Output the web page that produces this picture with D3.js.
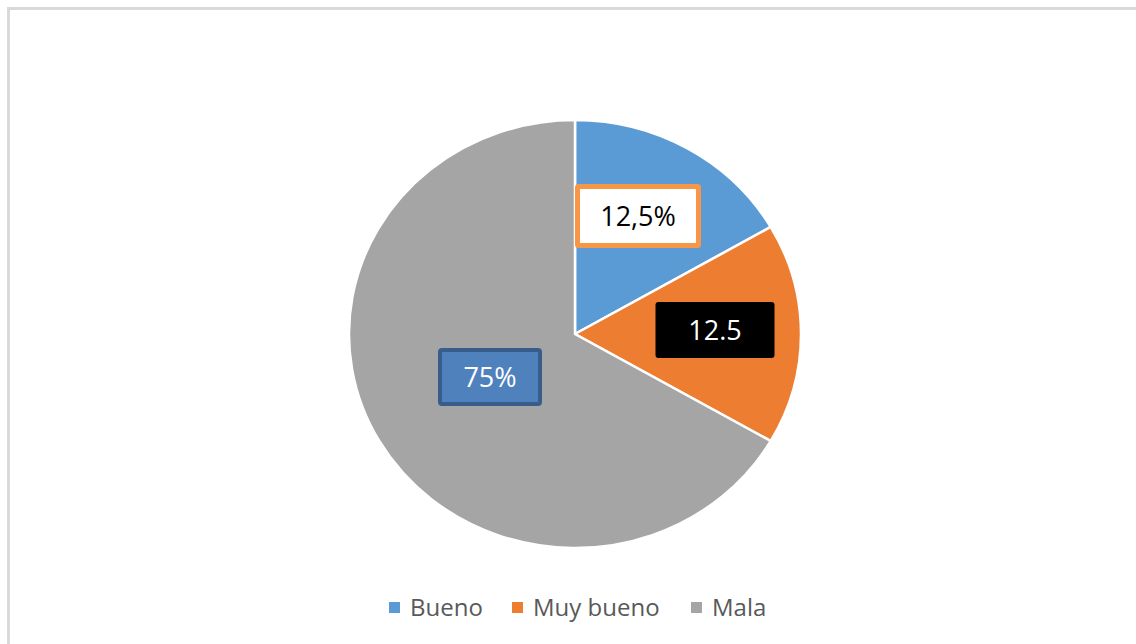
<!DOCTYPE html>
<html>
<head>
<meta charset="utf-8">
<script src="https://cdn.jsdelivr.net/npm/d3@7"></script>
<style>
  body { margin: 0; background: #fff; }
  text { font-family: "Open Sans", "Noto Sans", sans-serif; }
</style>
</head>
<body>
<div id="chart"></div>
<script>
// data
var categories = ['Bueno', 'Muy bueno', 'Mala'];
var values = [1, 1, 4];
var labels = ['12,5%', '12.5', '75%'];
var colors = ['#5b9bd5', '#ed7d31', '#a5a5a5'];

var width = 1136, height = 644;
var cx = 575, cy = 334, ry = 214, rx = 226;

var svg = d3.select('#chart').append('svg')
  .attr('width', width)
  .attr('height', height);

// chart area border (only top/left visible)
svg.append('rect')
  .attr('x', 8.5).attr('y', 8.5)
  .attr('width', 1400).attr('height', 1000)
  .attr('fill', 'none')
  .attr('stroke', '#d9d9d9')
  .attr('stroke-width', 3);

var pie = d3.pie().sort(null).value(function (d) { return d; });
var arcs = pie(values);
var arc = d3.arc().innerRadius(0).outerRadius(ry);

// slightly stretched horizontally like the original
var g = svg.append('g')
  .attr('transform', 'translate(' + cx + ',' + cy + ') scale(' + (rx / ry) + ',1)');

g.selectAll('path')
  .data(arcs)
  .join('path')
  .attr('d', arc)
  .attr('fill', function (d, i) { return colors[i]; })
  .attr('stroke', '#fff')
  .attr('stroke-width', 2.5)
  .attr('vector-effect', 'non-scaling-stroke');

// data label boxes: each style is different in the original
var boxStyle = [
  { dx: 63, dy: -118, w: 121, h: 59, fill: '#fff', stroke: '#f79646', sw: 5, color: '#000', r: 1 },
  { dx: 140, dy: -4, w: 119, h: 56, fill: '#000', stroke: 'none', sw: 0, color: '#fff', r: 3 },
  { dx: -85, dy: 43, w: 100, h: 54, fill: '#4f81bd', stroke: '#385d8a', sw: 4, color: '#fff', r: 2 }
];

var lab = svg.append('g').attr('transform', 'translate(' + cx + ',' + cy + ')')
  .selectAll('g')
  .data(arcs)
  .join('g')
  .attr('transform', function (d, i) {
    return 'translate(' + boxStyle[i].dx + ',' + boxStyle[i].dy + ')';
  });

lab.append('rect')
  .attr('x', function (d, i) { return -boxStyle[i].w / 2; })
  .attr('y', function (d, i) { return -boxStyle[i].h / 2; })
  .attr('width', function (d, i) { return boxStyle[i].w; })
  .attr('height', function (d, i) { return boxStyle[i].h; })
  .attr('rx', function (d, i) { return boxStyle[i].r; })
  .attr('fill', function (d, i) { return boxStyle[i].fill; })
  .attr('stroke', function (d, i) { return boxStyle[i].stroke; })
  .attr('stroke-width', function (d, i) { return boxStyle[i].sw; });

lab.append('text')
  .attr('text-anchor', 'middle')
  .attr('dy', '0.36em')
  .attr('font-size', 27)
  .attr('fill', function (d, i) { return boxStyle[i].color; })
  .text(function (d, i) { return labels[i]; });

// legend
var legendX = [389, 512, 691];
var leg = svg.append('g')
  .selectAll('g')
  .data(categories)
  .join('g')
  .attr('transform', function (d, i) { return 'translate(' + legendX[i] + ',607)'; });

leg.append('rect')
  .attr('x', 0).attr('y', -5)
  .attr('width', 11).attr('height', 11)
  .attr('fill', function (d, i) { return colors[i]; });

leg.append('text')
  .attr('x', 21)
  .attr('dy', '0.36em')
  .attr('font-size', 24)
  .attr('fill', '#595959')
  .text(function (d) { return d; });
</script>
</body>
</html>
